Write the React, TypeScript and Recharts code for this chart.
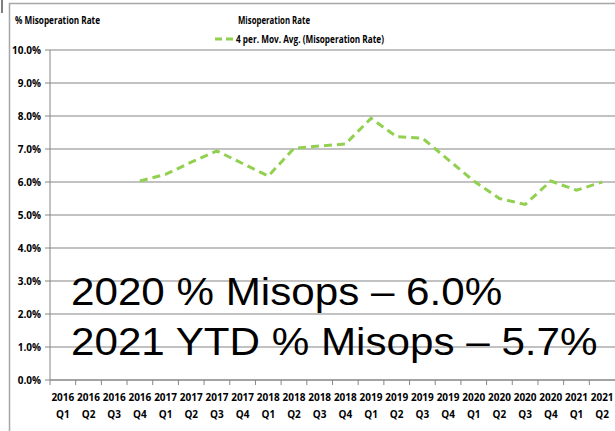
import { LineChart, CartesianGrid, XAxis, YAxis, Line } from "recharts";

const years = ["2016", "2016", "2016", "2016", "2017", "2017", "2017", "2017", "2018", "2018", "2018", "2018", "2019", "2019", "2019", "2019", "2020", "2020", "2020", "2020", "2021", "2021"];
const quarters = ["Q1", "Q2", "Q3", "Q4", "Q1", "Q2", "Q3", "Q4", "Q1", "Q2", "Q3", "Q4", "Q1", "Q2", "Q3", "Q4", "Q1", "Q2", "Q3", "Q4", "Q1", "Q2"];
// 4 period moving average, first three quarters have no value
const movAvg = [null, null, null, 6.03, 6.23, 6.6, 6.94, 6.56, 6.18, 7.02, 7.09, 7.15, 7.93, 7.37, 7.33, 6.68, 6.03, 5.5, 5.32, 6.03, 5.75, 6.0];
const yTicks = [0, 1, 2, 3, 4, 5, 6, 7, 8, 9, 10];

const data = years.map((y, i) => ({ label: y + " " + quarters[i], year: y, q: quarters[i], value: movAvg[i] }));

const W = 615;
const H = 431;
const LEFT = 50;
const GREEN = "#92D050";
const GRAY = "#868686";
const smallFont = "'Liberation Sans Narrow', 'Open Sans', Arial, sans-serif";
const bigFont = "'Liberation Sans', Arial, sans-serif";
const band = (W - LEFT) / data.length;

const XTick = (props: any) => {
  const { x, y, index } = props;
  const d = data[index];
  return (
    <g>
      <line x1={x - band / 2} x2={x - band / 2} y1={y - 5} y2={y} stroke={GRAY} />
      <text x={x} y={y} textAnchor="middle" fontFamily={smallFont} fontWeight="bold" fontSize={10} fill="#000">
        <tspan x={x} dy={16}>{d.year}</tspan>
        <tspan x={x} dy={17}>{d.q}</tspan>
      </text>
    </g>
  );
};

const App = () => {
  return (
    <div style={{ position: "absolute", left: 0, top: 0, width: W, height: H, background: "#fff", overflow: "hidden" }}>
      <LineChart width={W} height={H} data={data} margin={{ top: 50, right: 0, bottom: 0, left: 0 }}>
        <CartesianGrid vertical={false} stroke={GRAY} strokeWidth={1.2} />
        <XAxis
          dataKey="label"
          scale="band"
          height={51}
          interval={0}
          tickLine={false}
          tickSize={5}
          tickMargin={0}
          axisLine={{ stroke: GRAY }}
          tick={<XTick />}
        />
        <YAxis
          width={LEFT}
          domain={[0, 10]}
          ticks={yTicks}
          interval={0}
          tickSize={5}
          tickMargin={4}
          tickFormatter={(v: number) => v.toFixed(1) + "%"}
          axisLine={{ stroke: GRAY }}
          tickLine={{ stroke: GRAY }}
          tick={{ fontFamily: smallFont, fontWeight: "bold", fontSize: 10, fill: "#000" }}
        />
        <Line
          type="linear"
          dataKey="value"
          stroke={GREEN}
          strokeWidth={3}
          strokeDasharray="8 5"
          dot={false}
          isAnimationActive={false}
        />
      </LineChart>
      <svg width={W} height={H} style={{ position: "absolute", left: 0, top: 0, pointerEvents: "none" }}>
        <line x1={2} x2={2} y1={0} y2={13} stroke="#555" strokeWidth={1.5} />
        <rect x={9.5} y={3.5} width={700} height={600} fill="none" stroke="#a6a6a6" strokeWidth={1.5} />
        <text x={15} y={24} textLength={85} lengthAdjust="spacingAndGlyphs" fontFamily={smallFont} fontWeight="bold" fontSize={10.5} fill="#000">% Misoperation Rate</text>
        <text x={238} y={23.5} textLength={72} lengthAdjust="spacingAndGlyphs" fontFamily={smallFont} fontWeight="bold" fontSize={10.5} fill="#000">Misoperation Rate</text>
        <line x1={215} x2={233} y1={39} y2={39} stroke={GREEN} strokeWidth={3} strokeDasharray="7 4" />
        <text x={236} y={42.5} textLength={148} lengthAdjust="spacingAndGlyphs" fontFamily={smallFont} fontWeight="bold" fontSize={10.5} fill="#000">4 per. Mov. Avg. (Misoperation Rate)</text>
        <g transform="translate(71,0) scale(1.11,1)">
          <text x={0} y={305.5} fontFamily={bigFont} fontSize={38} fill="#000">2020 % Misops – 6.0%</text>
          <text x={0} y={355} fontFamily={bigFont} fontSize={38} fill="#000">2021 YTD % Misops – 5.7%</text>
        </g>
      </svg>
    </div>
  );
};

export default App;
